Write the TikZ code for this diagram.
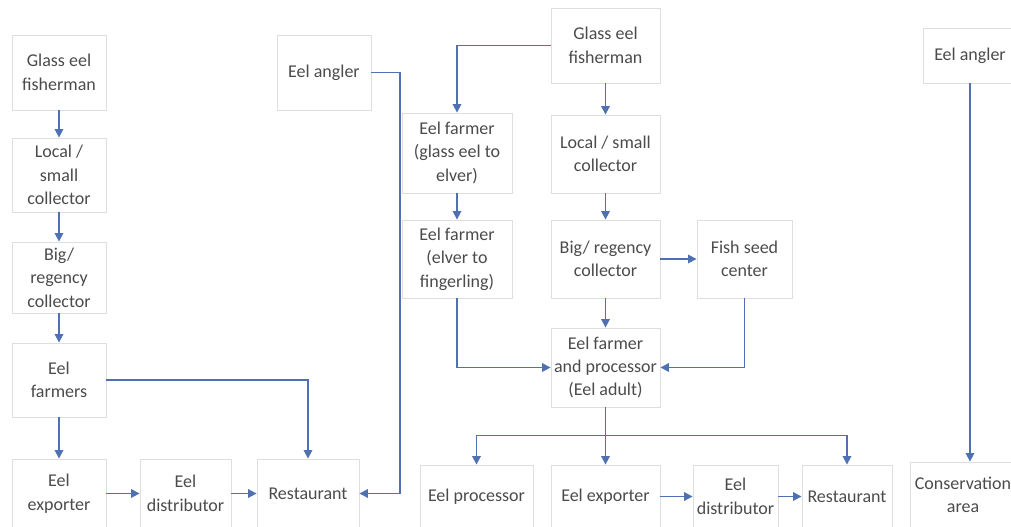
\documentclass[tikz,border=0pt]{standalone}
\usepackage{fontspec}
\setmainfont{Carlito}
\usetikzlibrary{arrows.meta}

\definecolor{pfeilblau}{RGB}{79,113,178}
\definecolor{rahmengrau}{RGB}{222,222,222}
\definecolor{textgrau}{RGB}{75,75,75}

\begin{document}
\begin{tikzpicture}[
	kasten/.style={draw=rahmengrau, line width=0.6pt, align=center, inner sep=0pt, text=textgrau, font=\fontsize{12.8}{16.7}\selectfont},
	pfeil/.style={draw=pfeilblau, line width=1.2pt, -{Triangle[length=6pt,width=6pt]}}
]

%Rahmen
\useasboundingbox (0,0) rectangle (25.275,13.15);

%Kette links
\node[kasten, minimum width=2.35cm, minimum height=1.875cm] (gf1) at (1.475,11.3375) {Glass eel\\fisherman};
\node[kasten, minimum width=2.35cm, minimum height=1.85cm] (lc1) at (1.475,8.775) {Local /\\small\\collector};
\node[kasten, minimum width=2.35cm, minimum height=1.775cm] (bc1) at (1.475,6.2125) {Big/\\regency\\collector};
\node[kasten, minimum width=2.35cm, minimum height=1.85cm] (ef1) at (1.475,3.65) {Eel\\farmers};
\node[kasten, minimum width=2.35cm, minimum height=1.725cm] (ex1) at (1.475,0.8125) {Eel\\exporter};
\node[kasten, minimum width=2.275cm, minimum height=1.725cm] (ed1) at (4.6375,0.8125) {Eel\\distributor};
\node[kasten, minimum width=2.55cm, minimum height=1.725cm] (rs1) at (7.7,0.8125) {Restaurant};
\node[kasten, minimum width=2.35cm, minimum height=1.875cm] (ea1) at (8.1,11.3375) {Eel angler};

%Pfeile links
\draw[pfeil] (gf1) -- (lc1);
\draw[pfeil] (lc1) -- (bc1);
\draw[pfeil] (bc1) -- (ef1);
\draw[pfeil] (ef1) -- (ex1);
\draw[pfeil] (ex1) -- (ed1);
\draw[pfeil] (ed1) -- (rs1);
\draw[pfeil] (ef1.east) -| (rs1.north);
\coordinate (knick) at (10,0);
\draw[pfeil] (ea1.east) -| (knick |- rs1.east) -- (rs1.east);

%Kette Mitte
\node[kasten, minimum width=2.725cm, minimum height=1.875cm] (gf2) at (15.1375,12.0125) {Glass eel\\fisherman};
\node[kasten, minimum width=2.75cm, minimum height=2cm] (ef2) at (11.425,9.325) {Eel farmer\\(glass eel to\\elver)};
\node[kasten, minimum width=2.75cm, minimum height=1.95cm] (ef3) at (11.425,6.675) {Eel farmer\\(elver to\\fingerling)};
\node[kasten, minimum width=2.725cm, minimum height=1.95cm] (lc2) at (15.1375,9.3) {Local / small\\collector};
\node[kasten, minimum width=2.725cm, minimum height=1.95cm] (bc2) at (15.1375,6.675) {Big/ regency\\collector};
\node[kasten, minimum width=2.375cm, minimum height=1.95cm] (fs) at (18.6125,6.675) {Fish seed\\center};
\node[kasten, minimum width=2.725cm, minimum height=1.975cm] (fp) at (15.1375,3.9625) {Eel farmer\\and processor\\(Eel adult)};
\node[kasten, minimum width=2.825cm, minimum height=1.575cm] (pr) at (11.9125,0.7375) {Eel processor};
\node[kasten, minimum width=2.725cm, minimum height=1.575cm] (ex2) at (15.1375,0.7375) {Eel exporter};
\node[kasten, minimum width=2.125cm, minimum height=1.575cm] (ed2) at (18.3875,0.7375) {Eel\\distributor};
\node[kasten, minimum width=2.25cm, minimum height=1.575cm] (rs2) at (21.175,0.7375) {Restaurant};

%Pfeile Mitte
\draw[pfeil] (gf2.west) -| (ef2.north);
\draw[pfeil] (gf2) -- (lc2);
\draw[pfeil] (ef2) -- (ef3);
\draw[pfeil] (lc2) -- (bc2);
\draw[pfeil] (bc2) -- (fs);
\draw[pfeil] (bc2) -- (fp);
\draw[pfeil] (ef3.south) |- (fp.west);
\draw[pfeil] (fs.south) |- (fp.east);
\coordinate (verteiler) at ([yshift=-0.7cm]fp.south);
\draw[pfeil] (fp) -- (ex2);
\draw[pfeil] (verteiler) -| (pr.north);
\draw[pfeil] (verteiler) -| (rs2.north);
\draw[pfeil] (ex2) -- (ed2);
\draw[pfeil] (ed2) -- (rs2);

%Kette rechts
\node[kasten, minimum width=2.35cm, minimum height=1.375cm] (ea2) at (24.25,11.7625) {Eel angler};
\node[kasten, minimum width=2.65cm, minimum height=1.65cm] (ca) at (24.075,0.775) {Conservation\\area};
\draw[pfeil] (ea2.south) -- (ea2.south |- ca.north);

\end{tikzpicture}
\end{document}
